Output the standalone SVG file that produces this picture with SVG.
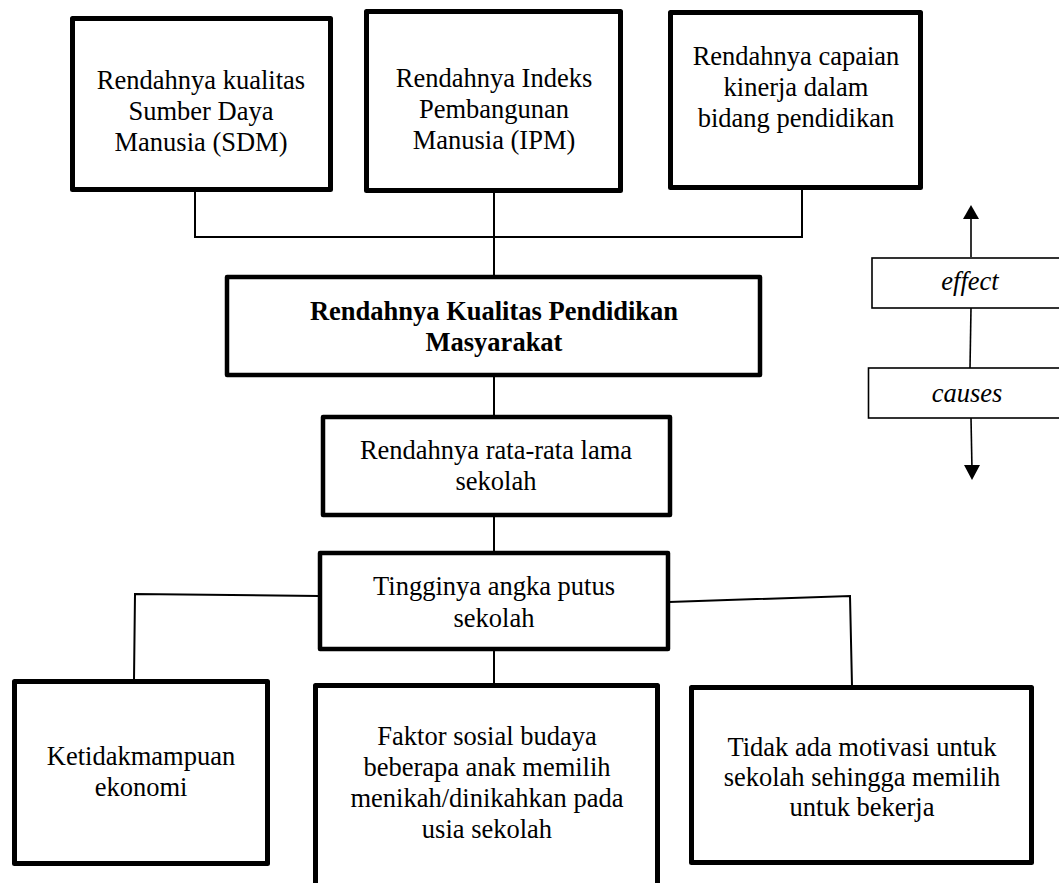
<svg xmlns="http://www.w3.org/2000/svg" width="1059" height="883" viewBox="0 0 1059 883">
<style>
.box{fill:#fff;stroke:#000;stroke-width:5;stroke-linejoin:round}
.thin{fill:#fff;stroke:#000;stroke-width:1.6}
.t{font-family:"Liberation Serif","Times New Roman",serif;font-size:26.5px;fill:#000;text-anchor:middle}
.b{font-weight:bold}
.i{font-style:italic}
.c{fill:none;stroke:#000;stroke-width:2}
</style>
<rect width="1059" height="883" fill="#fff"/>
<g id="connectors">
<polyline class="c" points="195,192 195,237 802,237 802,190"/>
<line class="c" x1="494" y1="193" x2="494" y2="276"/>
<line class="c" x1="494" y1="377" x2="494" y2="416"/>
<line class="c" x1="494" y1="517" x2="494" y2="552"/>
<polyline class="c" points="319,596 135,594 134,680"/>
<polyline class="c" points="669,602 850,596 852,686"/>
<line class="c" x1="494" y1="650" x2="494" y2="684"/>
</g>
<g id="n1"><rect class="box" x="72.5" y="18.5" width="258" height="171"/>
<text class="t" x="201" y="89">Rendahnya kualitas</text><text class="t" x="201" y="120">Sumber Daya</text><text class="t" x="201" y="151">Manusia (SDM)</text></g>
<g id="n2"><rect class="box" x="366.5" y="11.5" width="254" height="179"/>
<text class="t" x="494" y="87">Rendahnya Indeks</text><text class="t" x="494" y="118">Pembangunan</text><text class="t" x="494" y="149">Manusia (IPM)</text></g>
<g id="n3"><rect class="box" x="670.5" y="12.5" width="250" height="175"/>
<text class="t" x="796" y="65">Rendahnya capaian</text><text class="t" x="796" y="96">kinerja dalam</text><text class="t" x="796" y="127">bidang pendidikan</text></g>
<g id="main"><rect class="box" x="227" y="277" width="533" height="98" style="stroke-width:4.5"/>
<text class="t b" x="494" y="320">Rendahnya Kualitas Pendidikan</text><text class="t b" x="494" y="351">Masyarakat</text></g>
<g id="rata"><rect class="box" x="323" y="417" width="347" height="98" style="stroke-width:4.5"/>
<text class="t" x="496" y="459">Rendahnya rata-rata lama</text><text class="t" x="496" y="490">sekolah</text></g>
<g id="putus"><rect class="box" x="320" y="553" width="348" height="96" style="stroke-width:4.5"/>
<text class="t" x="494" y="595">Tingginya angka putus</text><text class="t" x="494" y="627">sekolah</text></g>
<g id="ekonomi"><rect class="box" x="14.5" y="681.5" width="253" height="182"/>
<text class="t" x="141" y="765">Ketidakmampuan</text><text class="t" x="141" y="796">ekonomi</text></g>
<g id="sosial"><rect class="box" x="315.5" y="685.5" width="342" height="230"/>
<text class="t" x="487" y="745">Faktor sosial budaya</text><text class="t" x="487" y="776">beberapa anak memilih</text><text class="t" x="487" y="807">menikah/dinikahkan pada</text><text class="t" x="487" y="838">usia sekolah</text></g>
<g id="motivasi"><rect class="box" x="691.5" y="687.5" width="340" height="175"/>
<text class="t" x="862" y="756">Tidak ada motivasi untuk</text><text class="t" x="862" y="786">sekolah sehingga memilih</text><text class="t" x="862" y="816">untuk bekerja</text></g>
<g id="legend">
<line class="c" x1="971" y1="257" x2="971" y2="214" style="stroke-width:1.6"/>
<polygon points="971,205 963,219 979,219" fill="#000"/>
<line class="c" x1="971" y1="308" x2="970" y2="368" style="stroke-width:1.6"/>
<line class="c" x1="971" y1="418" x2="972" y2="470" style="stroke-width:1.6"/>
<polygon points="972,480 964,465 980,465" fill="#000"/>
<g id="effect"><rect class="thin" x="872" y="258" width="200" height="50"/><text class="t i" x="970" y="290">effect</text></g>
<g id="causes"><rect class="thin" x="868.5" y="368" width="200" height="50"/><text class="t i" x="967" y="402">causes</text></g>
</g>
</svg>
